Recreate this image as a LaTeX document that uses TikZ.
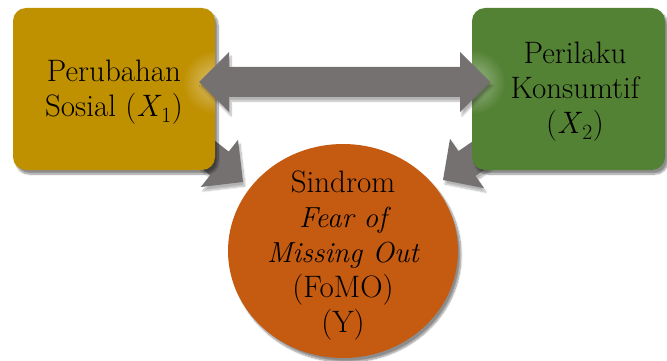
\documentclass[tikz,border=0pt]{standalone}
\usepackage{fontspec}
\usetikzlibrary{shadows.blur,fadings}
\definecolor{goldbox}{HTML}{BF9000}
\definecolor{greenbox}{HTML}{548235}
\definecolor{orangecirc}{HTML}{C55A11}
\definecolor{arrowgray}{HTML}{767171}
\tikzfading[name=glowfade, inner color=transparent!0, outer color=transparent!100]
\tikzset{
  varbox/.style={rounded corners=13pt, inner sep=0pt,
    blur shadow={shadow xshift=3pt, shadow yshift=-4pt, shadow blur steps=10, shadow opacity=45}},
  blockarrow/.style={fill=arrowgray, draw=none,
    blur shadow={shadow xshift=2pt, shadow yshift=-4pt, shadow blur steps=10, shadow opacity=30}},
  lbl/.style={align=center, font=\fontsize{31}{35}\selectfont, text=black},
  glow/.style={fill=white, fill opacity=0.45, path fading=glowfade}
}
\newcommand{\itl}[1]{{\fontsize{29}{35}\selectfont\itshape #1}}
\begin{document}
\begin{tikzpicture}[x=1pt,y=-1pt]
\useasboundingbox (0,0) rectangle (667,361);
% diagonal block arrows (drawn first, boxes cover their tails)
\coordinate (la1) at (165.8,102.1);
\coordinate (la2) at (228.7,151.6);
\coordinate (la3) at (238,139.8);
\coordinate (latip) at (243,182);
\coordinate (la5) at (200.8,187);
\coordinate (la6) at (210.1,175.2);
\coordinate (la7) at (147.2,125.7);
\fill[blockarrow] (la1) -- (la2) -- (la3) -- (latip) -- (la5) -- (la6) -- (la7) -- cycle;
\coordinate (ra1) at (524.4,105.7);
\coordinate (ra2) at (458.5,151.1);
\coordinate (ra3) at (450,138.8);
\coordinate (ratip) at (443,180);
\coordinate (ra5) at (484,188.2);
\coordinate (ra6) at (475.5,175.9);
\coordinate (ra7) at (541.4,130.5);
\fill[blockarrow] (ra1) -- (ra2) -- (ra3) -- (ratip) -- (ra5) -- (ra6) -- (ra7) -- cycle;
% boxes
\fill[varbox, fill=goldbox] (13,8) rectangle (215,170);
\begin{scope}
  \clip[rounded corners=13pt] (13,8) rectangle (215,170);
  \fill[glow] (214,82) circle (32);
\end{scope}
\node[lbl] (x1) at (114,92) {Perubahan\\Sosial (\textit{X}\textsubscript{1})};
\fill[varbox, fill=greenbox] (472,8) rectangle (665,170);
\begin{scope}
  \clip[rounded corners=13pt] (472,8) rectangle (665,170);
  \fill[glow] (473,82) circle (32);
\end{scope}
\node[lbl] (x2) at (575,92) {Perilaku\\Konsumtif\\(\textit{X}\textsubscript{2})};
% horizontal double block arrow
\coordinate (hl) at (199,82);
\coordinate (hr) at (490,82);
\fill[blockarrow] (hl) -- (229,52) -- (229,67) -- (460,67) -- (460,52) -- (hr)
  -- (460,112) -- (460,97) -- (229,97) -- (229,112) -- cycle;
% circle
\fill[orangecirc, blur shadow={shadow xshift=3pt, shadow yshift=-4pt, shadow blur steps=10, shadow opacity=45}]
  (343,251) ellipse [x radius=115, y radius=107];
\node[lbl] (y) at (343,256) {Sindrom\\\itl{Fear of}\\\itl{Missing Out}\\(FoMO)\\(Y)};
\end{tikzpicture}
\end{document}
